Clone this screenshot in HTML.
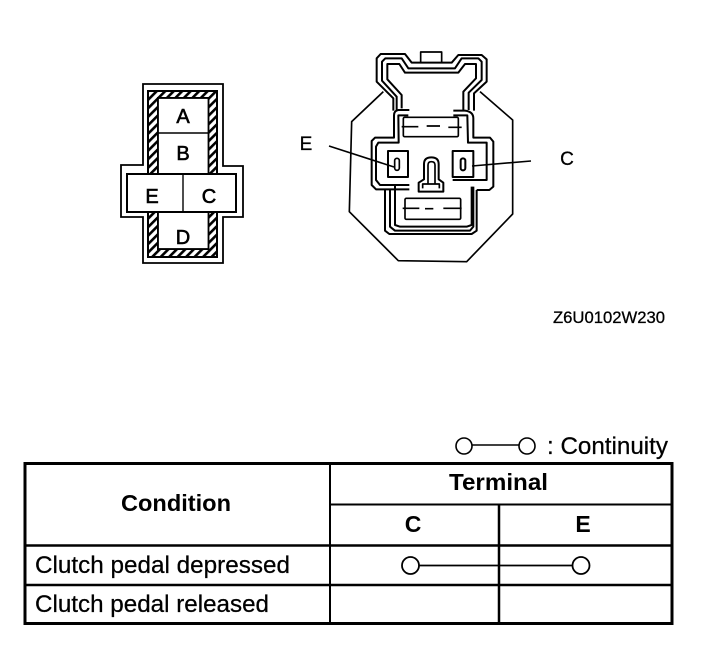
<!DOCTYPE html>
<html><head><meta charset="utf-8"><style>
html,body{margin:0;padding:0;background:#fff;width:704px;height:654px;overflow:hidden}
svg{display:block}
text{font-family:"Liberation Sans",sans-serif;fill:#000}
</style></head><body>
<svg width="704" height="654" viewBox="0 0 704 654" xmlns="http://www.w3.org/2000/svg">
<defs>
<pattern id="h" width="6" height="6" patternUnits="userSpaceOnUse" patternTransform="rotate(45)">
<rect width="6" height="6" fill="#fff"/><rect width="2.6" height="6" fill="#000"/>
</pattern>
</defs>
<!-- left connector -->
<path d="M143,84H223V166H243V217H223V263H143V217H121V165H143Z" fill="#fff" stroke="#000" stroke-width="1.8"/>
<path d="M148,91H217V257H148Z M158,98V249H208V98Z" fill="url(#h)" fill-rule="evenodd" stroke="#000" stroke-width="2"/>
<rect x="158" y="98" width="50.500" height="151" fill="#fff" stroke="#000" stroke-width="1.8"/>
<line x1="157" y1="133" x2="209" y2="133" stroke="#000" stroke-width="1.6"/>
<rect x="127" y="174" width="109" height="38" fill="#fff" stroke="#000" stroke-width="2"/>
<line x1="183" y1="174" x2="183" y2="212" stroke="#000" stroke-width="1.4"/>
<g font-size="20" text-anchor="middle" stroke="#000" stroke-width=".6">
<text x="183" y="123">A</text><text x="183" y="160">B</text><text x="152" y="203">E</text><text x="209" y="203">C</text><text x="183" y="244">D</text>
</g>
<!-- right connector -->
<g transform="translate(330,40) scale(.33333)" fill="none" stroke="#000" stroke-width="6" stroke-linejoin="round">
<path d="M160,155L65,245L58,515L205,662L410,665L548,522V240L450,155" stroke-width="5"/>
<path d="M272,68V36H335V68" stroke-width="5"/>
<path d="M190,212V175L140,125V55L152,42H225L245,68H365L385,45H455L470,58V125L432,160V212"/>
<path d="M200,212V170L156,122V65L166,55H215L235,85H375L395,55H445L455,65V120L416,158V210"/>
<path d="M215,205V165L172,118V72H208L225,98H385L405,72H438V115L400,155V210"/>
<path d="M238,210H205Q192,212 192,226V293H135L125,303V435L138,448H238"/>
<path d="M370,212H405Q430,215 430,235V293H480L490,305V440L478,450H440"/>
<path d="M235,226H205L206,308H145L138,320V420L150,435H238"/>
<path d="M370,226H412L414,308H470V420H368"/>
<path d="M195,437V555L210,560H410L425,555V440"/>
<path d="M165,450V572L178,582H425L440,572V450"/>
<path d="M180,450V560L195,572H420L430,560V440"/>
<rect x="174" y="333" width="60" height="78" fill="#fff"/>
<rect x="368" y="333" width="62" height="78" fill="#fff"/>
<rect x="194" y="355" width="14" height="36" rx="7" fill="#fff" stroke-width="5"/>
<rect x="392" y="355" width="14" height="36" rx="7" fill="#fff" stroke-width="6"/>
<rect x="220" y="232" width="165" height="58" rx="4" fill="#fff" stroke-width="5"/>
<path d="M215,260H265M290,258H330M355,262H395" stroke-width="5"/>
<rect x="225" y="475" width="167" height="63" rx="4" fill="#fff" stroke-width="5"/>
<path d="M218,505H268M285,506H310M340,505H395" stroke-width="5"/>
<path d="M266,455V428L282,418V372Q282,352 304,352Q326,352 326,372V418L340,428V455Z" fill="#fff"/>
<path d="M278,445V432H328V445M294,430V375Q294,365 304,365Q315,365 315,375V430" stroke-width="5"/>
</g>
<line x1="329" y1="146" x2="394" y2="167" stroke="#000" stroke-width="1.6"/>
<line x1="531" y1="161" x2="472" y2="166" stroke="#000" stroke-width="1.6"/>
<text x="306" y="150" font-size="19" text-anchor="middle" stroke="#000" stroke-width=".3">E</text>
<text x="567" y="165" font-size="19" text-anchor="middle" stroke="#000" stroke-width=".3">C</text>
<text x="553" y="323" font-size="17" textLength="112" lengthAdjust="spacingAndGlyphs" stroke="#000" stroke-width=".3">Z6U0102W230</text>
<!-- legend -->
<circle cx="464" cy="446" r="8" fill="#fff" stroke="#000" stroke-width="1.6"/>
<circle cx="527" cy="446" r="8" fill="#fff" stroke="#000" stroke-width="1.6"/>
<line x1="472" y1="445" x2="519" y2="445" stroke="#000" stroke-width="1.6"/>
<text x="547" y="454" font-size="24" textLength="121" lengthAdjust="spacingAndGlyphs" stroke="#000" stroke-width=".25">: Continuity</text>
<!-- table -->
<g stroke="#000" fill="none">
<rect x="25" y="463.500" width="647" height="160" stroke-width="3"/>
<line x1="330" y1="463" x2="330" y2="623" stroke-width="2"/>
<line x1="499" y1="504" x2="499" y2="623" stroke-width="2.500"/>
<line x1="330" y1="504.500" x2="672" y2="504.500" stroke-width="2"/>
<line x1="24" y1="545.500" x2="672" y2="545.500" stroke-width="2.500"/>
<line x1="24" y1="585" x2="672" y2="585" stroke-width="2.500"/>
<line x1="419" y1="565.500" x2="573" y2="565.500" stroke-width="1.800"/>
<circle cx="410.500" cy="565.500" r="8.500" fill="#fff" stroke-width="1.800"/>
<circle cx="581" cy="565.500" r="8.500" fill="#fff" stroke-width="1.800"/>
</g>
<g font-weight="bold">
<text x="121" y="511" font-size="23.500" textLength="110" lengthAdjust="spacingAndGlyphs">Condition</text>
<text x="449" y="490" font-size="23" textLength="99" lengthAdjust="spacingAndGlyphs">Terminal</text>
<text x="413" y="532" font-size="23" text-anchor="middle">C</text>
<text x="583" y="532" font-size="23" text-anchor="middle">E</text>
</g>
<g stroke="#000" stroke-width=".25">
<text x="35" y="573" font-size="24" textLength="255" lengthAdjust="spacingAndGlyphs">Clutch pedal depressed</text>
<text x="35" y="612" font-size="24" textLength="234" lengthAdjust="spacingAndGlyphs">Clutch pedal released</text>
</g>
</svg>
</body></html>
